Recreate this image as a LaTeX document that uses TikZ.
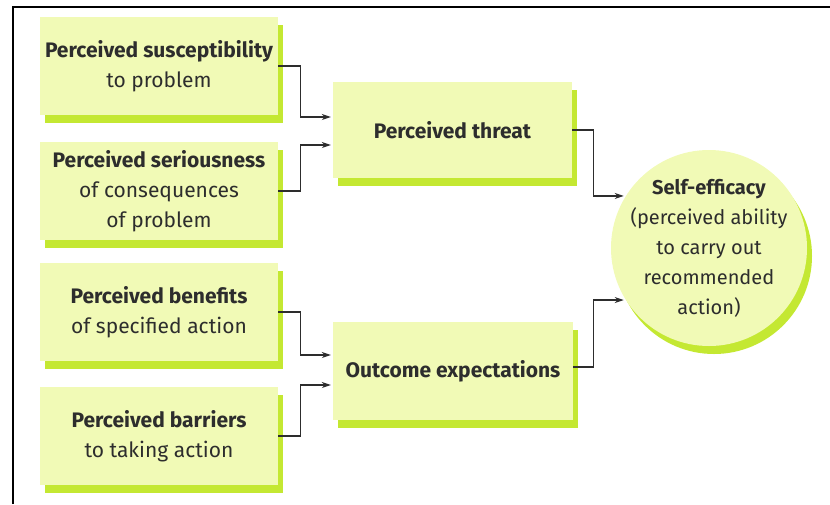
\documentclass[tikz,border=0pt]{standalone}
\usepackage{fontspec}
\setmainfont{Fira Sans}
\usetikzlibrary{arrows.meta,shadows}

\definecolor{boxfill}{RGB}{241,250,182}
\definecolor{boxshade}{RGB}{196,232,50}
\definecolor{ink}{RGB}{45,45,45}

\begin{document}
\begin{tikzpicture}[x=1pt,y=-1pt,
    factor/.style={rectangle,fill=boxfill,text=ink,align=center,
        minimum width=238pt,minimum height=98pt,
        drop shadow={shadow xshift=5pt,shadow yshift=-8pt,fill=boxshade,opacity=1}},
    result/.style={circle,fill=boxfill,inner sep=0pt,minimum size=196pt,
        drop shadow={shadow xshift=5pt,shadow yshift=-8pt,fill=boxshade,opacity=1}},
    link/.style={draw=ink,line width=1.2pt,-{Stealth[length=9pt,width=6pt]},shorten >=2pt},
    font=\fontsize{21}{30}\selectfont]
    \useasboundingbox (0,0) rectangle (830,504);
    \draw[line width=2pt] (12.5,504) -- (12.5,6.5) -- (830,6.5);

    % left column
    \node[factor] (sus) at (159,66) {\textbf{Perceived susceptibility}\\ to problem};
    \node[factor] (ser) at (159,191) {\textbf{Perceived seriousness}\\ of consequences\\ of problem};
    \node[factor] (ben) at (159,312) {\textbf{Perceived benefits}\\ of specified action};
    \node[factor] (bar) at (159,436) {\textbf{Perceived barriers}\\ to taking action};

    % middle column
    \node[factor,minimum width=239pt,minimum height=96pt] (thr) at (452.5,130) {\textbf{Perceived threat}};
    \node[factor,minimum width=240pt] (out) at (453,371) {\textbf{Outcome expectations}};

    % right
    \node[result,label={[align=center,text=ink,font=\fontsize{20}{30}\selectfont]center:\textbf{Self-efficacy}\\ (perceived ability\\ to carry out\\ recommended\\ action)}] (eff) at (709,248) {};

    \draw[link] (sus.east) -- ++(22,0) |- ([yshift=13pt]thr.west);
    \draw[link] (ser.east) -- ++(22,0) |- ([yshift=-15pt]thr.west);
    \draw[link] (ben.east) -- ++(22,0) |- ([yshift=16pt]out.west);
    \draw[link] (bar.east) -- ++(22,0) |- ([yshift=-14pt]out.west);
    \draw[link] (thr.east) -- ++(21,0) |- (eff.148);
    \draw[link] ([yshift=4pt]out.east) -- ++(20,0) |- (eff.212);
\end{tikzpicture}
\end{document}
